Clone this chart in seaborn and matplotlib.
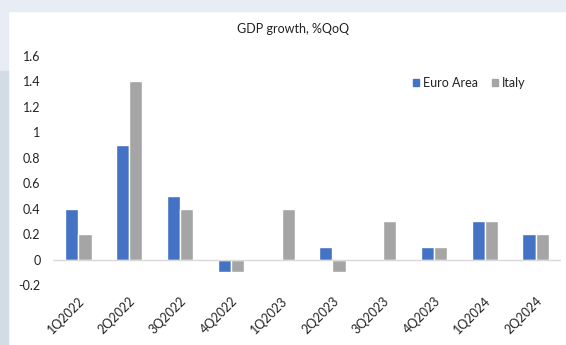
import matplotlib
matplotlib.use("Agg")
import matplotlib.pyplot as plt
import matplotlib.patches as mpatches
import seaborn as sns
import pandas as pd

quarters = ["1Q2022", "2Q2022", "3Q2022", "4Q2022", "1Q2023",
            "2Q2023", "3Q2023", "4Q2023", "1Q2024", "2Q2024"]
euro_area = [0.4, 0.9, 0.5, -0.1, 0.0, 0.1, 0.0, 0.1, 0.3, 0.2]
italy = [0.2, 1.4, 0.4, -0.1, 0.4, -0.1, 0.3, 0.1, 0.3, 0.2]
y_ticks = [-0.2, 0, 0.2, 0.4, 0.6, 0.8, 1, 1.2, 1.4, 1.6]
y_labels = ["-0.2", "0", "0.2", "0.4", "0.6", "0.8", "1", "1.2", "1.4", "1.6"]

df = pd.DataFrame({
    "quarter": quarters * 2,
    "value": euro_area + italy,
    "series": ["Euro Area"] * len(quarters) + ["Italy"] * len(quarters),
})

sns.set_theme(style="white")
plt.rcParams["font.family"] = ["Lato", "DejaVu Sans"]

W, H = 566, 345
fig = plt.figure(figsize=(W / 100, H / 100), dpi=100, facecolor="white")

# page background behind the white card
fig.patches.append(mpatches.Rectangle((0, 1 - 11 / H), 1, 11 / H, transform=fig.transFigure,
                                      color="#e8ecf5", zorder=0))
fig.patches.append(mpatches.Rectangle((0, 1 - 71 / H), 8 / W, 60 / H, transform=fig.transFigure,
                                      color="#e8ecf5", zorder=0))
fig.patches.append(mpatches.Rectangle((0, 0), 8 / W, 1 - 71 / H, transform=fig.transFigure,
                                      color="#d3dbe3", zorder=0))

ax = fig.add_axes([53 / W, 1 - 285 / H, (561 - 53) / W, (285 - 56) / H])
ax.set_facecolor("none")

palette = {"Euro Area": "#4472c4", "Italy": "#a5a5a5"}
sns.barplot(data=df, x="quarter", y="value", hue="series", palette=palette,
            width=0.52, edgecolor="white", linewidth=1.0, ax=ax, legend=False,
            saturation=1, zorder=2)

ax.set_xlim(-0.5, len(quarters) - 0.5)
ax.set_ylim(-0.2, 1.6)
ax.set_yticks(y_ticks)
ax.set_yticklabels(y_labels)
ax.axhline(0, color="#d9d9d9", lw=1, zorder=3)

for s in ax.spines.values():
    s.set_visible(False)
ax.tick_params(axis="both", length=0, labelsize=9, colors="#222222")
ax.tick_params(axis="y", pad=9)
ax.set_xlabel("")
ax.set_ylabel("")
for lbl in ax.get_xticklabels():
    lbl.set_rotation(45)
    lbl.set_ha("right")
    lbl.set_rotation_mode("anchor")
ax.tick_params(axis="x", pad=7)

fig.text(293 / W, 1 - 29 / H, "GDP growth, %QoQ", ha="center", va="center",
         fontsize=9, color="#222222")

handles = [mpatches.Patch(color=palette[k], label=k) for k in ["Euro Area", "Italy"]]
fig.legend(handles=handles, loc="center", bbox_to_anchor=(469 / W, 1 - 83 / H), ncol=2,
           frameon=False, fontsize=9, handlelength=0.5, handleheight=0.5,
           handletextpad=0.3, columnspacing=1.1, labelcolor="#222222")

fig.savefig("out.png", dpi=100, facecolor="white")
